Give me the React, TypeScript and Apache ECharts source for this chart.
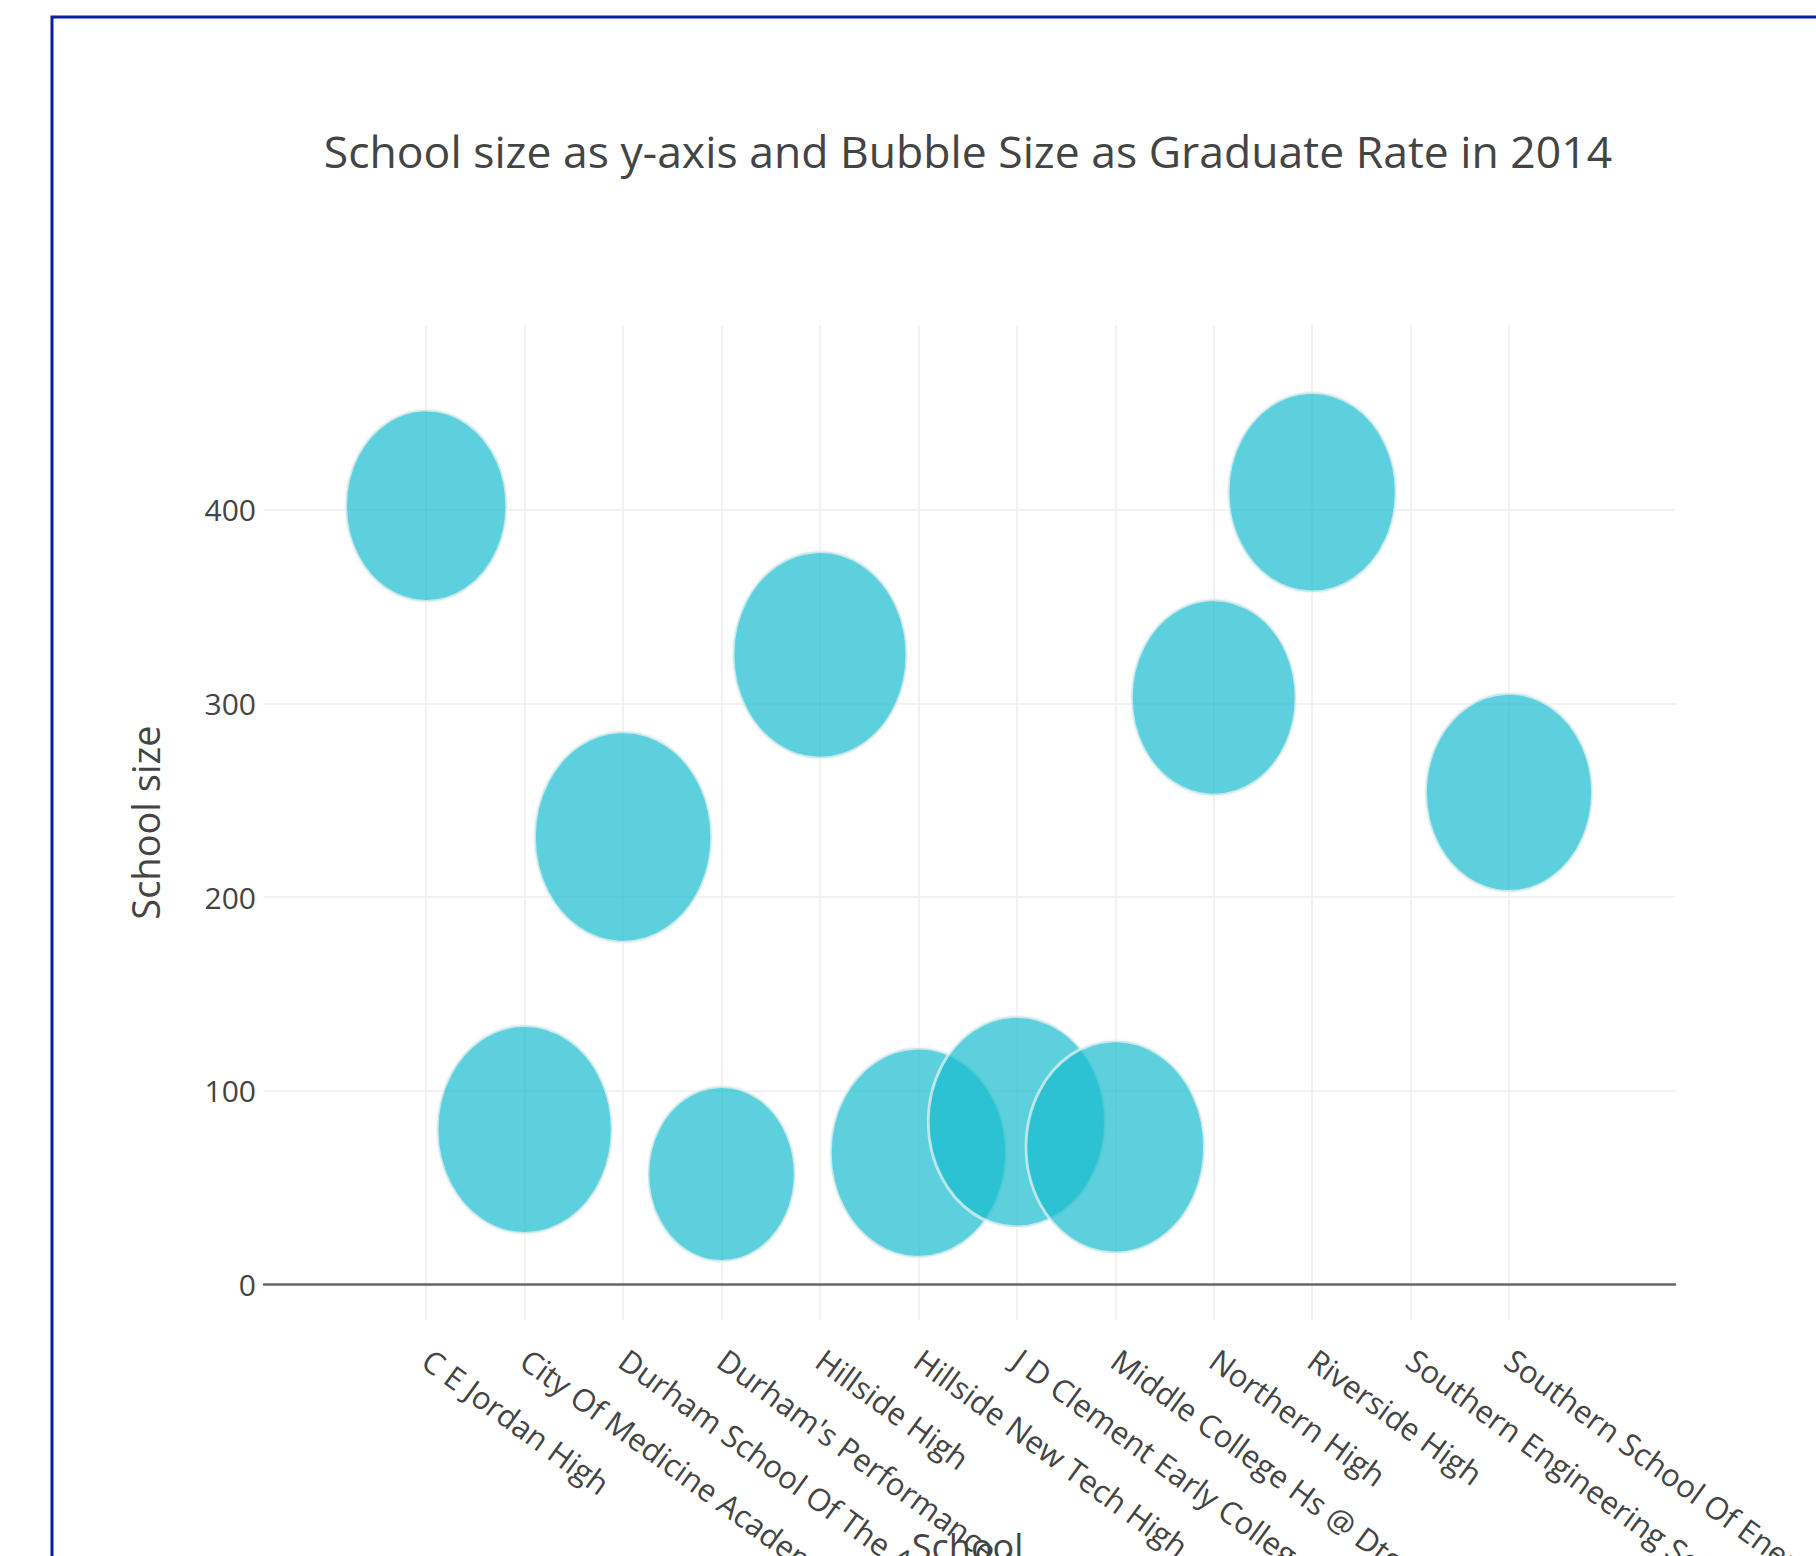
import React, { useEffect, useRef } from "react";
import * as echarts from "echarts";

const schools = [
  "C E Jordan High",
  "City Of Medicine Academy",
  "Durham School Of The Arts",
  "Durham's Performance Learning Center",
  "Hillside High",
  "Hillside New Tech High",
  "J D Clement Early College High",
  "Middle College Hs @ Dtcc",
  "Northern High",
  "Riverside High",
  "Southern Engineering School",
  "Southern School Of Energy And Sustainability",
];
const schoolSize: (number | null)[] = [402, 80, 231, 57, 325, 68, 84, 71, 303, 409, null, 254];
const gradRate: (number | null)[] = [86.9, 94.4, 95.6, 79.4, 93.8, 95.0, 95.6, 96.3, 88.8, 90.6, null, 90.0];
const yTicks = [0, 100, 200, 300, 400];

const FONT = "'Open Sans', 'Noto Sans', sans-serif";
const TXT = "#444";

export default function App() {
  const ref = useRef<HTMLDivElement>(null);
  useEffect(() => {
    document.body.style.margin = "0";
    const chart = echarts.init(ref.current!, undefined, { renderer: "svg" });
    const points = schools
      .map((s, i) => ({ s, v: schoolSize[i], r: gradRate[i] }))
      .filter((p) => p.v !== null)
      .map((p) => ({ value: [p.s, p.v], rate: p.r }));

    const plotLeft = 264;
    const plotRight = 1675;
    const y0 = 1284.4;
    const y400 = 509.6;
    const catFirst = 426.2;
    const catLast = 1509;
    const plotTop = 325;
    const plotBottom = 1320;
    const pxPerUnit = (y0 - y400) / 400;

    chart.setOption({
      animation: false,
      backgroundColor: "#fff",
      textStyle: { fontFamily: FONT },
      title: {
        text: "School size as y-axis and Bubble Size as Graduate Rate in 2014",
        left: 968,
        top: 128,
        textAlign: "center",
        padding: 0,
        textStyle: { fontFamily: FONT, fontSize: 44.5, fontWeight: "normal", color: TXT },
      },
      graphic: [
        {
          type: "rect",
          z: -10,
          shape: { x: 52, y: 17, width: 2000, height: 2000 },
          style: { fill: "none", stroke: "#0a1ea8", lineWidth: 3 },
        },
      ],
      grid: [
        {
          left: plotLeft,
          width: plotRight - plotLeft,
          top: y400,
          height: y0 - y400,
          containLabel: false,
          outerBoundsMode: "none",
        },
        {
          left: catFirst,
          width: catLast - catFirst,
          top: plotTop,
          height: plotBottom - plotTop,
          containLabel: false,
          outerBoundsMode: "none",
        },
      ],
      xAxis: [
        {
          type: "value",
          gridIndex: 0,
          min: 0,
          max: 1,
          axisLine: { show: true, lineStyle: { color: "#666", width: 2.5 } },
          axisTick: { show: false },
          axisLabel: { show: false },
          splitLine: { show: false },
        },
        {
          type: "category",
          gridIndex: 1,
          data: schools,
          boundaryGap: false,
          axisLine: { show: false },
          axisTick: { show: false },
          splitLine: { show: true, lineStyle: { color: "#eeeeee", width: 1.5 } },
          axisLabel: {
            interval: 0,
            rotate: -36,
            margin: 36,
            fontSize: 31,
            color: TXT,
            fontFamily: FONT,
            hideOverlap: false,
          },
          name: "School",
          nameLocation: "middle",
          nameGap: 208,
          nameMoveOverlap: false,
          nameTextStyle: { fontSize: 36, color: TXT, fontFamily: FONT },
        },
      ],
      yAxis: [
        {
          type: "value",
          gridIndex: 0,
          min: 0,
          max: 400,
          interval: 100,
          data: yTicks,
          axisLine: { show: false },
          axisTick: { show: false },
          axisLabel: { fontSize: 30, color: TXT, margin: 8, fontFamily: FONT },
          splitLine: { show: true, lineStyle: { color: "#eeeeee", width: 1.5 } },
        },
        {
          type: "value",
          gridIndex: 1,
          min: -(plotBottom - y0) / pxPerUnit,
          max: (y0 - plotTop) / pxPerUnit,
          axisLine: { show: false },
          axisTick: { show: false },
          axisLabel: { show: false },
          splitLine: { show: false },
          name: "School size",
          nameLocation: "middle",
          nameRotate: 90,
          nameGap: 262,
          nameMoveOverlap: false,
          nameTextStyle: { fontSize: 38, color: TXT, fontFamily: FONT },
        },
      ],
      series: [
        {
          type: "scatter",
          xAxisIndex: 1,
          yAxisIndex: 1,
          clip: false,
          data: points,
          symbol: "circle",
          symbolSize: (_v: any, params: any) => {
            const r = points[params.dataIndex].rate as number;
            return [r * 1.853, r * 2.205];
          },
          itemStyle: {
            color: "#17becf",
            opacity: 0.7,
            borderColor: "#f2f2f2",
            borderWidth: 3,
          },
          emphasis: { disabled: true },
        },
      ],
    });
    return () => chart.dispose();
  }, []);
  return <div ref={ref} style={{ width: 1816, height: 1556 }} />;
}
